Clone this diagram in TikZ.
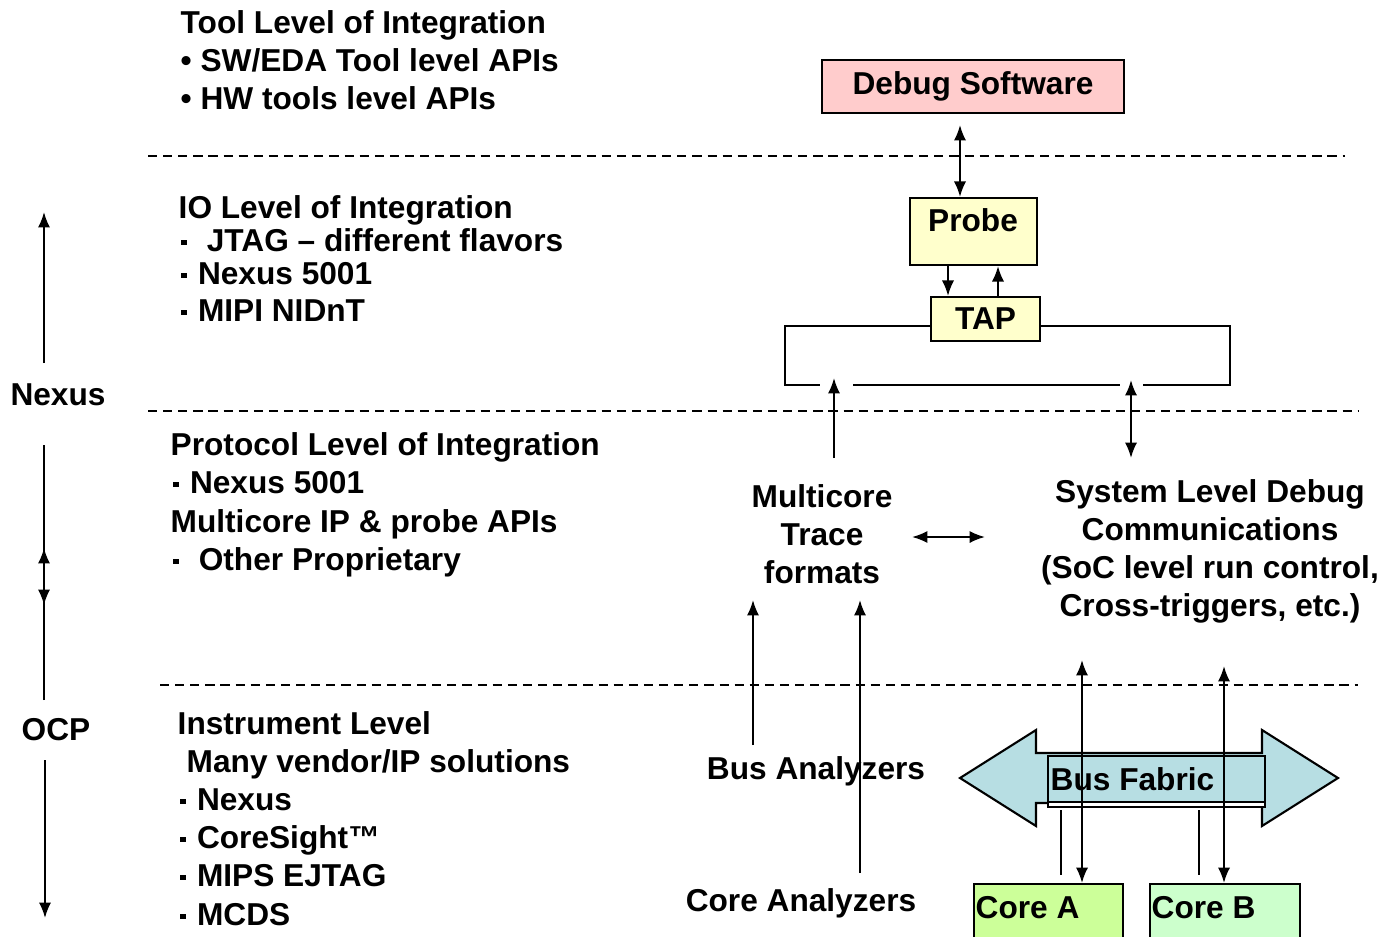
\documentclass[tikz,border=0pt]{standalone}
\usepackage{fontspec}
\setmainfont{Liberation Sans}
\usetikzlibrary{arrows.meta}
\tikzset{>={Latex[length=4.4pt,width=3.5pt]}}

\definecolor{dbgpink}{HTML}{FFCCCC}
\definecolor{probeyel}{HTML}{FFFFCC}
\definecolor{fabblue}{HTML}{B7DEE3}
\definecolor{coreagrn}{HTML}{CCFF99}
\definecolor{corebgrn}{HTML}{CCFFCC}

\newcommand{\smalldot}{\makebox[0.333em]{\rule[0.22em]{0.16em}{0.16em}}}

\tikzset{
  lvl/.style={anchor=west, inner sep=0pt, text height=0.72em, text depth=0pt,
    font=\bfseries\fontsize{9}{10.8}\selectfont},
  lbl/.style={inner sep=0pt, align=center, font=\bfseries\fontsize{9}{10.8}\selectfont},
  blk/.style={draw, line width=0.6pt, inner sep=0pt, font=\bfseries\fontsize{9}{10.8}\selectfont},
  sep/.style={dash pattern=on 2.6pt off 1.7pt, line width=0.5pt},
  lnk/.style={line width=0.6pt},
}

\begin{document}
\begin{tikzpicture}[x=0.01cm, y=-0.01cm]
    \useasboundingbox (0,0) rectangle (1388,936);
    \clip (0,0) rectangle (1388,936);

    % level separators
    \draw[sep] (148,156) -- (1345,156);
    \draw[sep] (148,411) -- (1358,411);
    \draw[sep] (160,685) -- (1358,685);

    % left: levels of integration
    \node[lvl] (tool) at (180,21) {Tool Level of Integration};
    \node[lvl] (tool1) at (180,59) {• SW/EDA Tool level APIs};
    \node[lvl] (tool2) at (180,97) {• HW tools level APIs};

    \node[lvl] (io) at (178,206) {IO Level of Integration};
    \node[lvl] (io1) at (178,239) {\smalldot\ \ JTAG – different flavors};
    \node[lvl] (io2) at (178,272) {\smalldot\ Nexus 5001};
    \node[lvl] (io3) at (178,309) {\smalldot\ MIPI NIDnT};

    \node[lvl] (prot) at (170,443) {Protocol Level of Integration};
    \node[lvl] (prot1) at (170,481) {\smalldot\ Nexus 5001};
    \node[lvl] (prot2) at (170,520) {Multicore IP \& probe APIs};
    \node[lvl] (prot3) at (170,558) {\smalldot\ \ Other Proprietary};

    \node[lvl] (inst) at (177,722) {Instrument Level};
    \node[lvl] (inst1) at (186,760) {Many vendor/IP solutions};
    \node[lvl] (inst2) at (177,798) {\smalldot\ Nexus};
    \node[lvl] (inst3) at (177,836) {\smalldot\ CoreSight™};
    \node[lvl] (inst4) at (177,874) {\smalldot\ MIPS EJTAG};
    \node[lvl] (inst5) at (177,913) {\smalldot\ MCDS};

    % left: standards scale
    \node[lbl] (nexus) at (58,395) {Nexus};
    \node[lbl] (ocp) at (56,730) {OCP};
    \draw[lnk,->] (44,363) -- (44,212);
    \draw[lnk,->] (44,445) -- (44,605);
    \draw[lnk,->] (44,700) -- (44,548);
    \draw[lnk,->] (45,760) -- (45,918);

    % debug software, probe, tap
    \node[blk, fill=dbgpink, minimum width=3.02cm, minimum height=0.53cm] (dbg) at (973,86.5) {Debug Software};
    \node[blk, fill=probeyel, minimum width=1.27cm, minimum height=0.67cm] (probe) at (973.5,231.5) {};
    \node[lbl] (probetxt) at (973,220) {Probe};
    \node[blk, fill=probeyel, minimum width=1.09cm, minimum height=0.44cm] (tap) at (985.5,319) {TAP};

    \coordinate (dbgend) at (960,125);
    \coordinate (xdn) at (948,0);
    \coordinate (xup) at (998,0);
    \draw[lnk,<->] (dbgend) -- (dbgend |- probe.north);
    \draw[lnk,->] (probe.south -| xdn) -- (tap.north -| xdn);
    \draw[lnk,->] (tap.north -| xup) -- (probe.south -| xup);

    % chain round the tap
    \draw[lnk] ([yshift=-0.07cm]tap.west) -| (785,385) -- (820,385);
    \draw[lnk] (853,385) -- (1120,385);
    \draw[lnk] ([yshift=-0.07cm]tap.east) -| (1230,385) -- (1143,385);

    % protocol level
    \node[lbl] (mtf) at (822,534) {Multicore\\Trace\\formats};
    \node[lbl] (sld) at (1210,551) {System Level Debug\\Communications\\(SoC level run control,\\Cross-triggers, etc.)};
    \draw[lnk,->] (834,458) -- (834,378);
    \draw[lnk,<->] (1131,380) -- (1131,458);
    \draw[lnk,<->] (912,537) -- (985,537);

    % analyzers
    \node[lbl] (busan) at (816,771) {Bus Analyzers};
    \node[lbl] (corean) at (801,903) {Core Analyzers};
    \draw[lnk,->] (753,745) -- (753,600);
    \draw[lnk,->] (860,873) -- (860,600);

    % bus fabric
    \draw[lnk, fill=fabblue] (960,778) -- (1036,730) -- (1036,753) -- (1262,753) -- (1262,730)
        -- (1338,778) -- (1262,826) -- (1262,803) -- (1036,803) -- (1036,826) -- cycle;
    \draw[lnk, fill=white] (1048,756) rectangle (1265,807);
    \draw[lnk, fill=fabblue] (1048,756) rectangle (1265,802);
    \node[lvl] (fab) at (1050,778) {Bus Fabric};

    % cores
    \node[blk, fill=coreagrn, minimum width=1.49cm, minimum height=0.8cm, anchor=north west] (corea) at (973,883) {};
    \node[blk, fill=corebgrn, minimum width=1.50cm, minimum height=0.8cm, anchor=north west] (coreb) at (1149,883) {};
    \node[lvl] (coreatxt) at (975,906) {Core A};
    \node[lvl] (corebtxt) at (1151,906) {Core B};

    \coordinate (fa) at (1082,660);
    \coordinate (fb) at (1224,666);
    \draw[lnk,<->] (fa) -- (fa |- corea.north);
    \draw[lnk,<->] (fb) -- (fb |- coreb.north);
    \draw[lnk] (1061,810) -- (1061,875);
    \draw[lnk] (1199,810) -- (1199,875);
\end{tikzpicture}
\end{document}
